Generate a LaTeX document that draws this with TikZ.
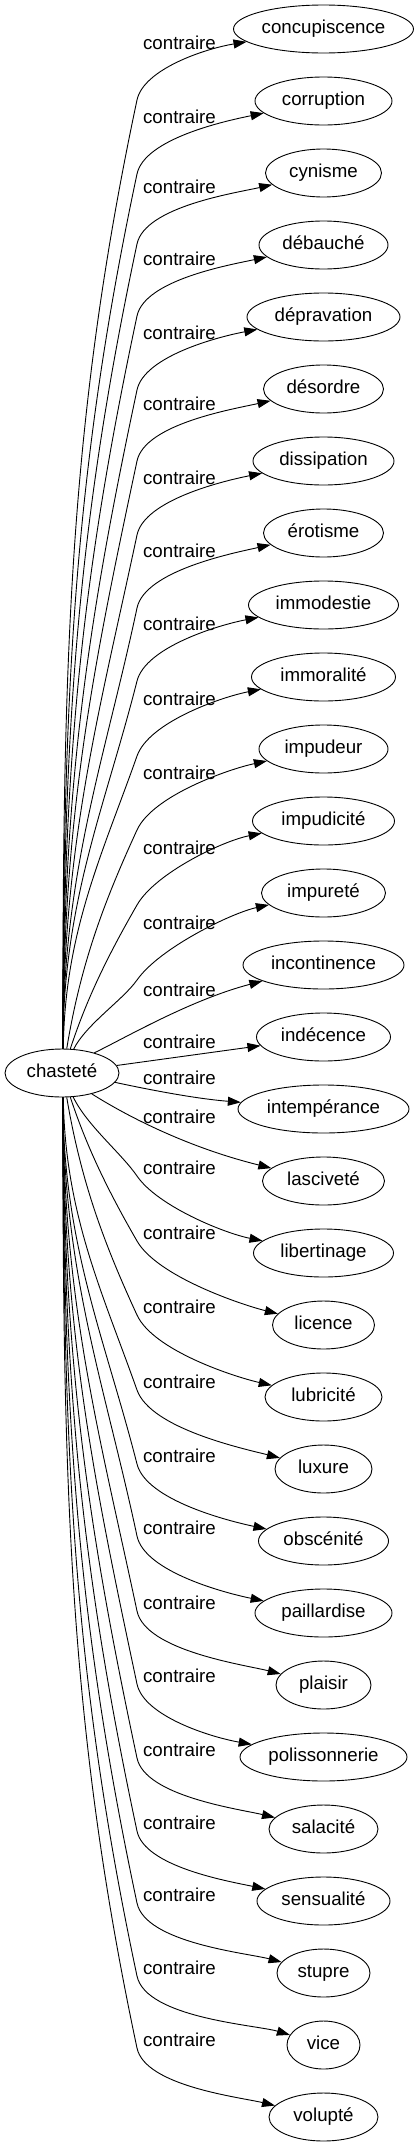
\documentclass[tikz,border=0pt]{standalone}
\usepackage{fontspec}
\setmainfont{Liberation Sans}
\usetikzlibrary{shapes.geometric,arrows.meta,calc}
\begin{document}
\begin{tikzpicture}[x=1pt,y=-1pt,
  every node/.style={font=\fontsize{18.7pt}{22pt}\selectfont},
  term/.style={ellipse,draw,line width=0.9pt,inner sep=0pt,minimum height=48pt,text height=13.5pt,text depth=3.9pt},
  rel/.style={inner sep=0pt},
  conn/.style={draw,line width=0.9pt,-{Triangle[length=13pt,width=9pt]}}]
\useasboundingbox (0,0) rectangle (419,2147);
\node[term, minimum width=114pt] (chastete) at (62,1073) {chasteté};
\foreach \i/\txt/\w/\ly in {0/concupiscence/180/43, 1/corruption/137/117, 2/cynisme/116/187,
  3/débauché/129/259, 4/dépravation/153/333, 5/désordre/120/404, 6/dissipation/141/478,
  7/érotisme/120/551, 8/immodestie/150/624, 9/immoralité/144/699, 10/impudeur/129/773,
  11/impudicité/142/848, 12/impureté/124/923, 13/incontinence/161/990, 14/indécence/134/1042,
  15/intempérance/171/1078, 16/lasciveté/122/1117, 17/libertinage/140/1168, 18/licence/102/1233,
  19/lubricité/117/1307, 20/luxure/97/1382, 21/obscénité/130/1456, 22/paillardise/137/1528,
  23/plaisir/95/1603, 24/polissonnerie/167/1676, 25/salacité/109/1750, 26/sensualité/133/1823,
  27/stupre/93/1895, 28/vice/73/1968, 29/volupté/109/2040} {
  \pgfmathsetmacro\eTy{29+72*\i}
  \node[term, minimum width=\w pt] (n\i) at (323.5,\eTy) {\txt};
  \node[rel] (l\i) at (179.5,\ly) {contraire};
}
% upper edges
\foreach \i/\w/\ly in {0/180/43, 1/137/117, 2/116/187, 3/129/259, 4/153/333, 5/120/404,
  6/141/478, 7/120/551, 8/150/624, 9/144/699, 10/129/773, 11/142/848, 12/124/923} {
  \pgfmathsetmacro\eTy{29+72*\i}
  \pgfmathsetmacro\eBy{\ly+57}
  \pgfmathsetmacro\eH{1050-\eBy}
  \pgfmathsetmacro\eTh{50+28*min(1,\eH/400)}
  \pgfmathsetmacro\eG{min(1,\eH/300)}
  \pgfmathtruncatemacro\ePh{88-31*(1-\eG)}
  \pgfmathsetmacro\ePs{90-35*(1-\eG)}
  \pgfmathsetmacro\eAx{0.4*\eH*cos(\ePs)}
  \pgfmathsetmacro\eAy{-0.4*\eH*sin(\ePs)}
  \pgfmathsetmacro\eK{0.35*\eH}
  \pgfmathsetmacro\eBx{137-\eK*cos(\eTh)}
  \pgfmathsetmacro\eBcy{\eBy+\eK*sin(\eTh)}
  \pgfmathsetmacro\eEx{323.5-\w/2}
  \pgfmathsetmacro\eM{0.25*veclen(\eEx+12-137,\eTy+10-\eBy)}
  \pgfmathsetmacro\eCx{137+\eM*cos(\eTh)}
  \pgfmathsetmacro\eCy{\eBy-\eM*sin(\eTh)}
  \pgfmathsetmacro\eDx{\eEx-30}
  \pgfmathsetmacro\eDy{\eTy+20}
  \draw[conn] (chastete.\ePh) .. controls ($(chastete.\ePh)+(\eAx,\eAy)$) and (\eBx,\eBcy) .. (137,\eBy) .. controls (\eCx,\eCy) and (\eDx,\eDy) .. (n\i);
}
% lower edges
\foreach \i/\w/\ly in {17/140/1168, 18/102/1233, 19/117/1307, 20/97/1382, 21/130/1456,
  22/137/1528, 23/95/1603, 24/167/1676, 25/109/1750, 26/133/1823, 27/93/1895, 28/73/1968, 29/109/2040} {
  \pgfmathsetmacro\eTy{29+72*\i}
  \pgfmathsetmacro\eBy{\ly+8}
  \pgfmathsetmacro\eH{\eBy-1097}
  \pgfmathsetmacro\eTh{50+28*min(1,\eH/400)}
  \pgfmathsetmacro\eG{min(1,\eH/300)}
  \pgfmathtruncatemacro\ePh{-(88-31*(1-\eG))}
  \pgfmathsetmacro\ePs{90-35*(1-\eG)}
  \pgfmathsetmacro\eAx{0.4*\eH*cos(\ePs)}
  \pgfmathsetmacro\eAy{0.4*\eH*sin(\ePs)}
  \pgfmathsetmacro\eK{0.35*\eH}
  \pgfmathsetmacro\eBx{137-\eK*cos(\eTh)}
  \pgfmathsetmacro\eBcy{\eBy-\eK*sin(\eTh)}
  \pgfmathsetmacro\eEx{323.5-\w/2}
  \pgfmathsetmacro\eM{0.25*veclen(\eEx+12-137,\eTy-10-\eBy)}
  \pgfmathsetmacro\eCx{137+\eM*cos(\eTh)}
  \pgfmathsetmacro\eCy{\eBy+\eM*sin(\eTh)}
  \pgfmathsetmacro\eDx{\eEx-30}
  \pgfmathsetmacro\eDy{\eTy-20}
  \draw[conn] (chastete.\ePh) .. controls ($(chastete.\ePh)+(\eAx,\eAy)$) and (\eBx,\eBcy) .. (137,\eBy) .. controls (\eCx,\eCy) and (\eDx,\eDy) .. (n\i);
}
% middle edges
\draw[conn] (chastete.32) .. controls (125,1038) and (190,1000) .. (n13);
\draw[conn] (chastete) -- (n14);
\draw[conn] (chastete.-10) .. controls (160,1092) and (200,1099) .. (n15);
\draw[conn] (chastete.-35) .. controls (130,1118) and (190,1148) .. (n16);
\end{tikzpicture}
\end{document}
